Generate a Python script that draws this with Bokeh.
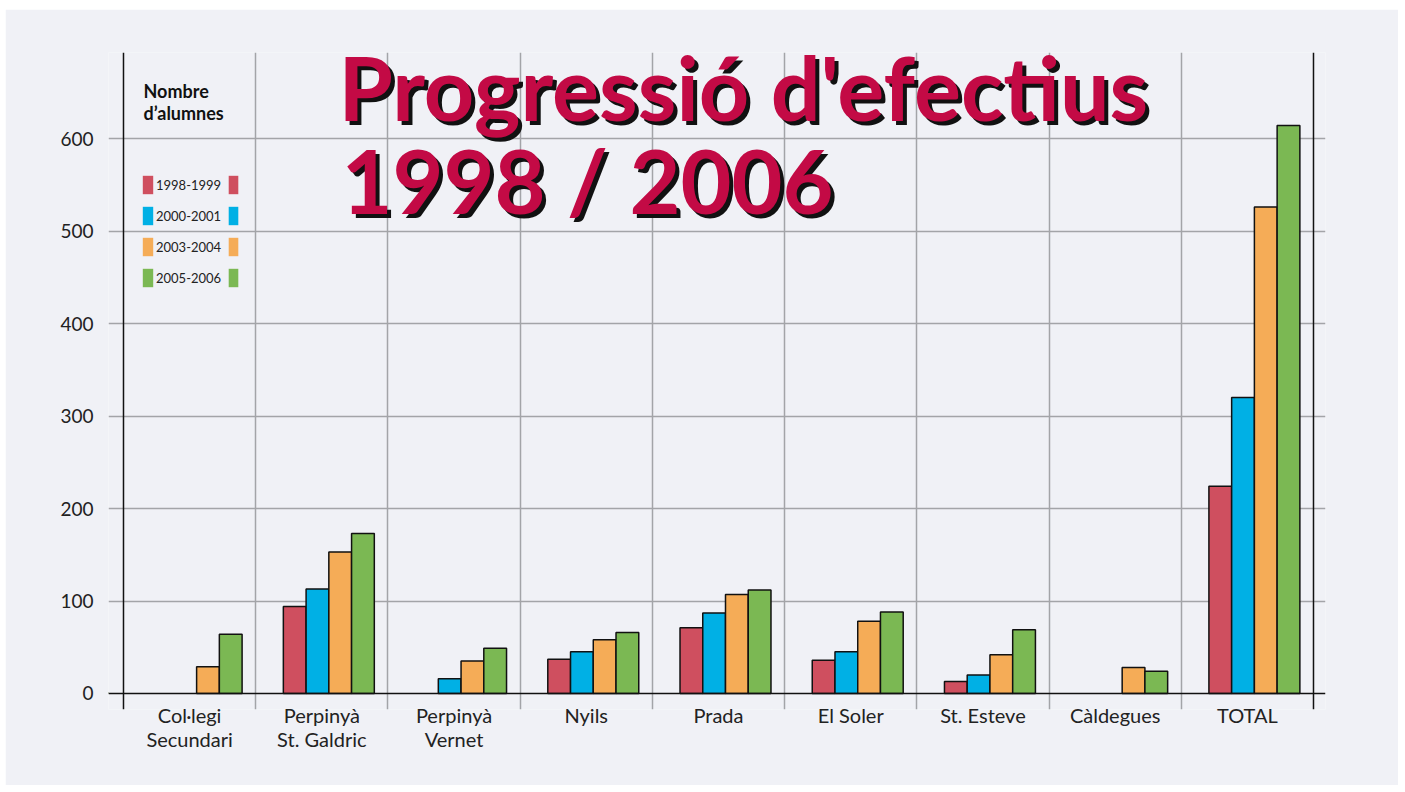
from bokeh.plotting import figure
from bokeh.models import (Range1d, FixedTicker, Label, Legend, LegendItem, ColumnDataSource, Span)
from bokeh.embed import file_html
from bokeh.resources import INLINE

categories = ["Col·legi\nSecundari", "Perpinyà\nSt. Galdric", "Perpinyà\nVernet", "Nyils",
              "Prada", "El Soler", "St. Esteve", "Càldegues", "TOTAL"]
series_names = ["1998-1999", "2000-2001", "2003-2004", "2005-2006"]
v1998 = [0, 94, 0, 37, 71, 36, 13, 0, 224]
v2000 = [0, 113, 16, 45, 87, 45, 20, 0, 320]
v2003 = [29, 153, 35, 58, 107, 78, 42, 28, 526]
v2005 = [64, 173, 49, 66, 112, 88, 69, 24, 614]
y_ticks = [0, 100, 200, 300, 400, 500, 600]
colors = ["#CF4F5F", "#00B0E5", "#F5AC57", "#7BB853"]

BG = "#F0F1F6"
FONT = "Lato"

p = figure(width=1393, height=776, output_backend="svg", toolbar_location=None,
           x_range=Range1d(-0.1134, 9.0908), y_range=Range1d(-17.3, 693.0),
           min_border_left=103, min_border_right=73, min_border_top=43, min_border_bottom=76)
p.margin = (9, 0, 0, 5)
p.background_fill_color = BG
p.border_fill_color = BG
p.outline_line_color = None

# grids
p.xgrid.ticker = FixedTicker(ticks=list(range(1, 9)))
p.xgrid.grid_line_color = "#A3A4A8"
p.xgrid.grid_line_width = 1.5
p.ygrid.ticker = FixedTicker(ticks=y_ticks[1:])
p.ygrid.grid_line_color = "#A3A4A8"
p.ygrid.grid_line_width = 1.5

for xv in (0, 9):
    p.add_layout(Span(location=xv, dimension="height", line_color="#111111", line_width=1.5))
p.add_layout(Span(location=0, dimension="width", line_color="#111111", line_width=1.5))

# axes
p.yaxis.ticker = FixedTicker(ticks=y_ticks)
p.yaxis.axis_line_color = None
p.yaxis.major_tick_line_color = None
p.yaxis.minor_tick_line_color = None
p.yaxis.major_label_text_font = FONT
p.yaxis.major_label_text_font_size = "19px"
p.yaxis.major_label_text_color = "#222222"
p.yaxis.major_label_standoff = 9

centers = [i + 0.5 for i in range(len(categories))]
p.xaxis.ticker = FixedTicker(ticks=centers)
p.xaxis.major_label_overrides = {c: lab for c, lab in zip(centers, categories)}
p.xaxis.axis_line_color = None
p.xaxis.major_tick_line_color = None
p.xaxis.minor_tick_line_color = None
p.xaxis.major_label_text_font = FONT
p.xaxis.major_label_text_font_size = "20px"
p.xaxis.major_label_text_color = "#222222"
p.xaxis.major_label_text_line_height = 1.0
p.xaxis.major_label_standoff = -13

# bars
bw = 0.172
shift = 0.053
all_vals = [v1998, v2000, v2003, v2005]
leg_renderers = []
for k, (vals, col) in enumerate(zip(all_vals, colors)):
    xs = [c + shift + (k - 1.5) * bw for c in centers]
    src = ColumnDataSource(dict(x=[x for x, v in zip(xs, vals) if v > 0],
                                top=[v for v in vals if v > 0]))
    p.vbar(x="x", top="top", bottom=0, width=bw, source=src, fill_color=col,
           line_color="#111111", line_width=1.5)
    # legend-only renderer (no outline)
    r = p.vbar(x=[-5], top=[1], width=0.1, fill_color=col, line_color=None)
    leg_renderers.append(r)

# legend: left squares with labels
items = [LegendItem(label=n, renderers=[r]) for n, r in zip(series_names, leg_renderers)]
leg1 = Legend(items=items, location=(33, 420), orientation="vertical",
              glyph_width=13, glyph_height=23, label_standoff=2, spacing=8,
              padding=0, margin=0, background_fill_alpha=0, border_line_color=None,
              label_text_font=FONT, label_text_font_size="13px", label_text_color="#222222",
              label_height=23)
p.add_layout(leg1, "center")
items2 = [LegendItem(label=" ", renderers=[r]) for r in leg_renderers]
leg2 = Legend(items=items2, location=(119, 420), orientation="vertical",
              glyph_width=12, glyph_height=23, label_standoff=0, spacing=8,
              padding=0, margin=0, background_fill_alpha=0, border_line_color=None,
              label_text_font_size="1px", label_width=1, label_height=23)
p.add_layout(leg2, "center")

# legend header
p.add_layout(Label(x=35, y=630, x_units="screen", y_units="screen", text="Nombre\nd’alumnes",
                   text_font=FONT, text_font_style="bold", text_font_size="18px",
                   text_color="#111111", text_baseline="top", text_line_height=1.0))

# title with shadow
title_lines = ["Progressió d'efectius", "1998 / 2006"]
for dx, dy, col in ((4, -4, "#111111"), (0, 0, "#C30A45")):
    p.add_layout(Label(x=230 + dx, y=676 + dy, x_units="screen", y_units="screen",
                       text=title_lines[0], text_font=FONT, text_font_style="bold",
                       text_font_size="88px", text_color=col, text_baseline="top"))
    p.add_layout(Label(x=233 + dx, y=583 + dy, x_units="screen", y_units="screen",
                       text=title_lines[1], text_font=FONT, text_font_style="bold",
                       text_font_size="88px", text_color=col, text_baseline="top"))

open("out.html", "w").write(file_html(p, INLINE))
